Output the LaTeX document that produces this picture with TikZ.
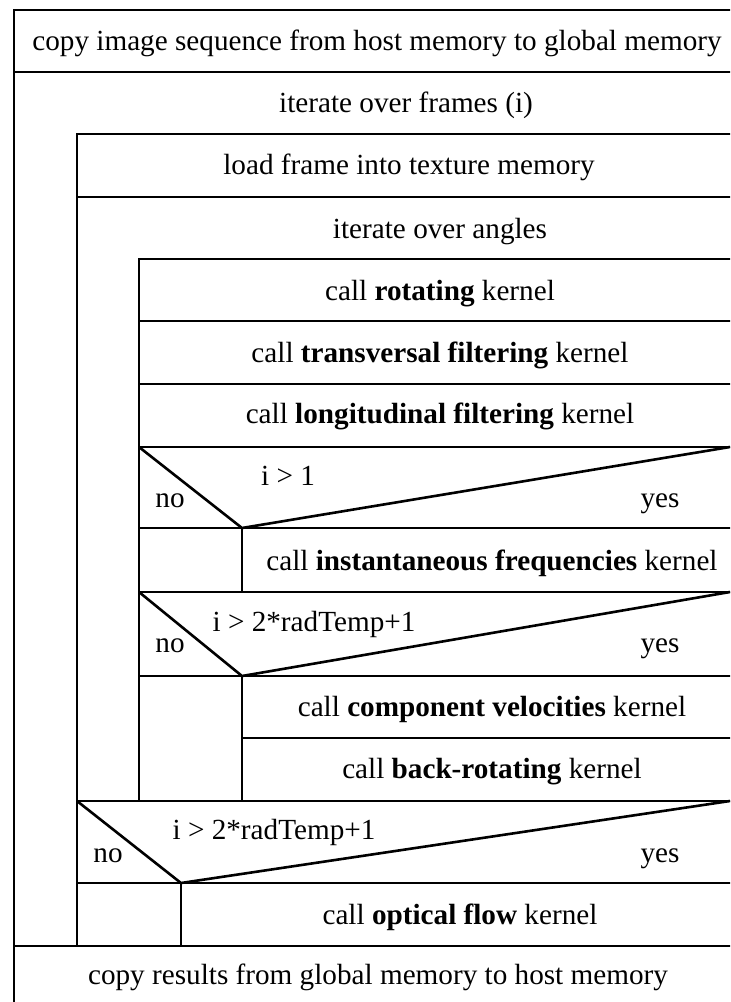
\documentclass[tikz,border=0pt]{standalone}
\usepackage{fontspec}
\setmainfont{Liberation Serif}
\begin{document}
\begin{tikzpicture}[x=0.5pt,y=-0.5pt,line width=1.3pt,
  txt/.style={inner sep=0pt,anchor=base,font=\fontsize{14.6}{16}\selectfont}]
\useasboundingbox (0,0) rectangle (730,1002);
\begin{scope}
\clip (0,0) rectangle (730,1002);
% frame lines
\draw (14,1010) -- (14,10) -- (740,10);
\draw (14,72) -- (740,72);
\draw (77,946) -- (77,134) -- (740,134);
\draw (77,197) -- (740,197);
\draw (139,801) -- (139,259) -- (740,259);
\draw (139,321) -- (740,321);
\draw (139,384) -- (740,384);
\draw (139,447) -- (740,447);
\draw (139,528) -- (740,528);
\draw (139,592) -- (740,592);
\draw (139,676) -- (740,676);
\draw (242,738) -- (740,738);
\draw (77,801) -- (740,801);
\draw (77,883) -- (740,883);
\draw (14,946) -- (740,946);
% conditions
\draw (139,447) -- (242,528) -- (730,447);
\draw (242,528) -- (242,592);
\draw (139,592) -- (242,676) -- (730,592);
\draw (242,676) -- (242,801);
\draw (77,801) -- (181,883) -- (730,801);
\draw (181,883) -- (181,946);
\end{scope}
% texts
\node[txt] (t1) at (377,50) {copy image sequence from host memory to global memory};
\node[txt] (t2) at (406,112) {iterate over frames (i)};
\node[txt] (t3) at (409,174) {load frame into texture memory};
\node[txt] (t4) at (440,238) {iterate over angles};
\node[txt] (t5) at (440,300) {call \textbf{rotating} kernel};
\node[txt] (t6) at (440,362) {call \textbf{transversal filtering} kernel};
\node[txt] (t7) at (440,423) {call \textbf{longitudinal filtering} kernel};
\node[txt] (c1) at (288,485) {i > 1};
\node[txt] (n1) at (170,507) {no};
\node[txt] (y1) at (660,507) {yes};
\node[txt] (t8) at (492,570) {call \textbf{instantaneous frequencies} kernel};
\node[txt] (c2) at (314,631) {i > 2*radTemp+1};
\node[txt] (n2) at (170,652) {no};
\node[txt] (y2) at (660,652) {yes};
\node[txt] (t9) at (492,716) {call \textbf{component velocities} kernel};
\node[txt] (t10) at (492,778) {call \textbf{back-rotating} kernel};
\node[txt] (c3) at (274,839) {i > 2*radTemp+1};
\node[txt] (n3) at (108,862) {no};
\node[txt] (y3) at (660,862) {yes};
\node[txt] (t11) at (460,924) {call \textbf{optical flow} kernel};
\node[txt] (t12) at (378,984) {copy results from global memory to host memory};
\end{tikzpicture}
\end{document}
